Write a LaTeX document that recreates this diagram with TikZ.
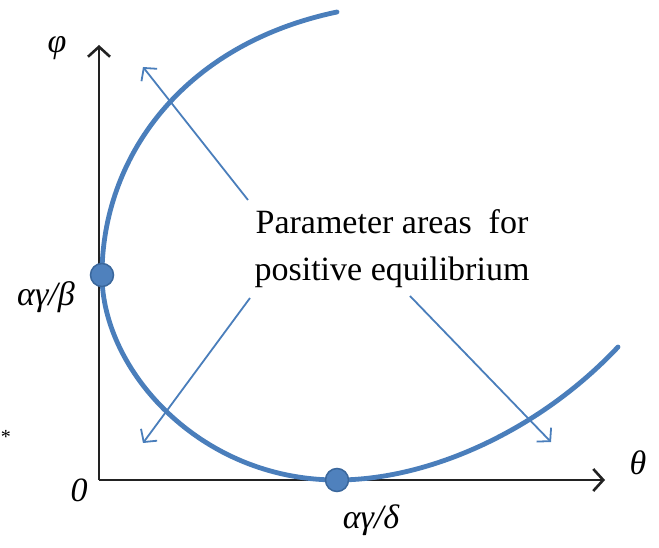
\documentclass[tikz,border=0pt]{standalone}
\usepackage{fontspec}
\setmainfont{Liberation Serif}
\usetikzlibrary{arrows.meta}

\definecolor{curveblue}{HTML}{4A7EBB}
\definecolor{dotblue}{HTML}{4F81BD}
\definecolor{dotedge}{HTML}{3A679C}
\definecolor{axisgray}{HTML}{222222}

\newcommand*{\xorig}{99}
\newcommand*{\yorig}{480}
\newcommand*{\xmax}{605}
\newcommand*{\ymax}{45}

\begin{document}
\begin{tikzpicture}
[
	x=1pt, y=-1pt,
	eqpt/.style={circle,draw=dotedge,fill=dotblue,line width=1.5pt,inner sep=0pt,minimum size=23pt},
	axislabel/.style={inner sep=0pt,font=\fontsize{34}{40}\selectfont\itshape},
	pointer/.style={curveblue,line width=1.8pt,-{Straight Barb[length=9pt,width=20pt]}},
	axisline/.style={axisgray,line width=2.6pt,-{Straight Barb[length=10pt,width=22pt]}}
]

	\useasboundingbox (0,0) rectangle (659,548);

	% axes
	\coordinate (o) at (\xorig,\yorig);
	\coordinate (xend) at (\xmax,\yorig);
	\coordinate (yend) at (\xorig,\ymax);
	\draw[axisline] (o) -- (xend);
	\draw[axisline] (o) -- (yend);
	\node[axislabel] (theta) at (638,463) {θ};
	\node[axislabel] (phi) at (57,48) {φ};
	\node[axislabel] (zero) at (79,490) {0};
	\node[inner sep=0pt,font=\fontsize{20}{22}\selectfont] (star) at (6,437) {*};

	% boundary curve
	\coordinate (top) at (337,12);
	\coordinate (right) at (618,347);
	\draw[curveblue,line width=4.8pt,line cap=round]
		(top) .. controls (180,45) and (102,160) .. (102,275)
		.. controls (102,370) and (200,480) .. (337,480)
		.. controls (430,480) and (540,430) .. (right);

	% equilibrium points
	\node[eqpt] (pb) at (102,275) {};
	\node[eqpt] (pd) at (337,480) {};
	\node[axislabel] (lb) at (46,297) {αγ/β};
	\node[axislabel] (ld) at (371,520) {αγ/δ};

	% text and pointers
	\node[align=center,inner sep=0pt,font=\fontsize{34}{47}\selectfont] (areas) at (392,249)
		{Parameter areas\ \ for\\positive equilibrium};
	\coordinate (s1) at (248,200);
	\coordinate (s2) at (250,298);
	\coordinate (s3) at (410,296);
	\coordinate (t1) at (143,67);
	\coordinate (t2) at (143,443);
	\coordinate (t3) at (551,442);
	\draw[pointer] (s1) -- (t1);
	\draw[pointer] (s2) -- (t2);
	\draw[pointer] (s3) -- (t3);

\end{tikzpicture}
\end{document}
